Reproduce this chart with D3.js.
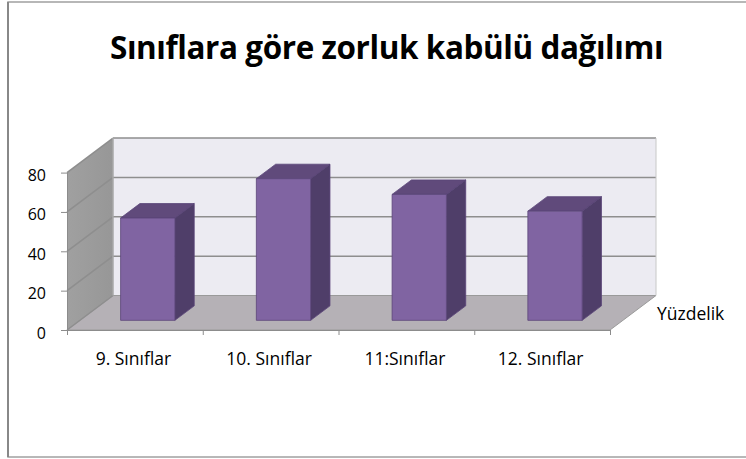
<!DOCTYPE html>
<html>
<head>
<meta charset="utf-8">
<script src="https://cdn.jsdelivr.net/npm/d3@7"></script>
<style>
  html, body { margin: 0; padding: 0; background: #fff; }
  svg { display: block; }
  text { font-family: "Open Sans", Lato, sans-serif; fill: #000; }
</style>
</head>
<body>
<svg id="chart" width="746" height="459"></svg>
<script>
// Chart data
const title = "Sınıflara göre zorluk kabülü dağılımı";
const categories = ["9. Sınıflar", "10. Sınıflar", "11:Sınıflar", "12. Sınıflar"];
const values = [52, 72, 64, 55.5];
const yTicks = [0, 20, 40, 60, 80];
const seriesName = "Yüzdelik";

const svg = d3.select("#chart");

// Scale a text's font size so that it spans the given width
function fitWidth(sel, target) {
  sel.each(function() {
    const s = parseFloat(d3.select(this).style("font-size"));
    const w = this.getComputedTextLength();
    d3.select(this).style("font-size", (s * target / w) + "px");
  });
}

// Frame around the chart area
svg.append("rect")
  .attr("x", 8).attr("y", 2).attr("width", 745).attr("height", 455)
  .attr("fill", "#fff").attr("stroke", "#a0a0a0").attr("stroke-width", 1.5);
svg.append("line")
  .attr("x1", 8).attr("x2", 8).attr("y1", 2).attr("y2", 457)
  .attr("stroke", "#888").attr("stroke-width", 2);

// Title
svg.append("text")
  .attr("x", 110).attr("y", 59)
  .style("font-size", "31px").style("font-weight", "bold")
  .style("letter-spacing", "-0.4px")
  .text(title)
  .call(fitWidth, 553);

// 3D plot geometry: front plane + depth offset
const front = { left: 67, right: 610, bottom: 330 };
const depth = { dx: 46, dy: -34.5 };
const barDepth = [0.28, 0.70]; // fraction of the depth occupied by bars

const x = d3.scaleLinear().domain([0, categories.length]).range([front.left, front.right]);
const y = d3.scaleLinear().domain([0, 80]).range([front.bottom, front.bottom - 157.4]);

const P = (px, py, f) => [px + depth.dx * f, py + depth.dy * f];
const poly = pts => "M" + pts.map(p => p.join(",")).join("L") + "Z";

const plot = svg.append("g");

// Back wall
plot.append("path")
  .attr("d", poly([P(front.left, y(0), 1), P(front.right, y(0), 1), P(front.right, y(80), 1), P(front.left, y(80), 1)]))
  .attr("fill", "#ecebf2");

// Side wall
const sideGrad = svg.append("defs").append("linearGradient")
  .attr("id", "sideGrad").attr("x1", 0).attr("y1", 0).attr("x2", 1).attr("y2", 0);
sideGrad.append("stop").attr("offset", 0).attr("stop-color", "#a0a0a0");
sideGrad.append("stop").attr("offset", 1).attr("stop-color", "#979797");
plot.append("path")
  .attr("d", poly([P(front.left, y(0), 0), P(front.left, y(80), 0), P(front.left, y(80), 1), P(front.left, y(0), 1)]))
  .attr("fill", "url(#sideGrad)");

// Floor
plot.append("path")
  .attr("d", poly([P(front.left, y(0), 0), P(front.right, y(0), 0), P(front.right, y(0), 1), P(front.left, y(0), 1)]))
  .attr("fill", "#b5b1b6").attr("stroke", "#9a9a9a").attr("stroke-width", 1);

// Gridlines on the back wall and the side wall
const grid = plot.append("g").attr("stroke", "#8e8e8e").attr("stroke-width", 1.5).attr("fill", "none");
yTicks.forEach(v => {
  const a = P(front.left, y(v), 1), b = P(front.right, y(v), 1), c = P(front.left, y(v), 0);
  if (v > 0) grid.append("path").attr("d", `M${a}L${b}`);
  grid.append("path").attr("d", `M${c}L${a}`);
});
// Back wall edges
grid.append("path").attr("d", `M${P(front.left, y(0), 1)}L${P(front.left, y(80), 1)}`).attr("stroke", "#a8a8a8");
grid.append("path").attr("d", `M${P(front.right, y(0), 1)}L${P(front.right, y(80), 1)}`).attr("stroke", "#c8c8c8").attr("stroke-width", 1);

// Bars (front, top and right faces)
const bars = plot.selectAll("g.bar").data(values).join("g").attr("class", "bar")
  .attr("stroke", "#5a4578").attr("stroke-width", 0.8).attr("stroke-linejoin", "round");
bars.each(function(v, i) {
  const g = d3.select(this);
  const x0 = x(i + 0.3), x1 = x(i + 0.7);
  const f0 = barDepth[0], f1 = barDepth[1];
  const yb = y(0), yt = y(v);
  g.append("path").attr("fill", "#604a7b")
    .attr("d", poly([P(x0, yt, f0), P(x1, yt, f0), P(x1, yt, f1), P(x0, yt, f1)]));
  g.append("path").attr("fill", "#4f3e69")
    .attr("d", poly([P(x1, yb, f0), P(x1, yt, f0), P(x1, yt, f1), P(x1, yb, f1)]));
  g.append("path").attr("fill", "#8064a2")
    .attr("d", poly([P(x0, yb, f0), P(x1, yb, f0), P(x1, yt, f0), P(x0, yt, f0)]));
});

// Value axis
const yAxis = svg.append("g")
  .attr("transform", `translate(${front.left},0)`)
  .call(d3.axisLeft(y).tickValues(yTicks).tickSize(6).tickPadding(15).tickSizeOuter(0));
yAxis.select(".domain").attr("stroke", "#8c8c8c");
yAxis.selectAll(".tick line").attr("stroke", "#8c8c8c");
yAxis.selectAll(".tick text")
  .style("font-size", "16px").style("font-family", "\"Open Sans\", sans-serif")
  .attr("fill", "#000").attr("dy", "0.5em");

// Category axis with ticks at category boundaries
const xAxis = svg.append("g")
  .attr("transform", `translate(0,${front.bottom})`)
  .call(d3.axisBottom(x).tickValues(d3.range(categories.length + 1)).tickSize(5).tickFormat("").tickSizeOuter(0));
xAxis.select(".domain").attr("stroke", "#8c8c8c");
xAxis.selectAll(".tick line").attr("stroke", "#8c8c8c");
svg.append("g").selectAll("text").data(categories).join("text")
  .attr("x", (d, i) => x(i + 0.5) - 1.5).attr("y", 365)
  .attr("text-anchor", "middle")
  .style("font-size", "17.5px")
  .text(d => d);

// Series (depth) axis label
svg.append("text")
  .attr("x", 657).attr("y", 320)
  .style("font-size", "17.5px")
  .text(seriesName);
</script>
</body>
</html>
